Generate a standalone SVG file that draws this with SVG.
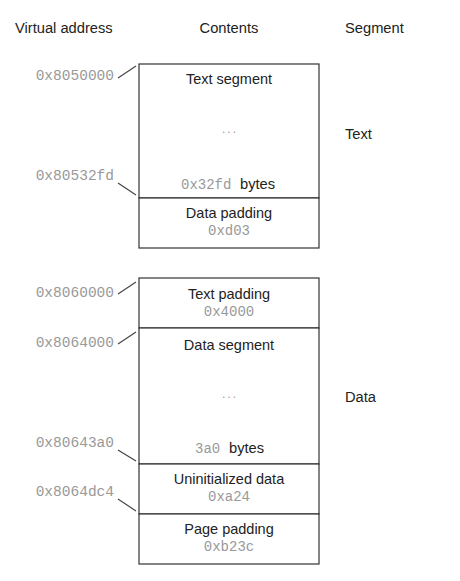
<svg xmlns="http://www.w3.org/2000/svg" width="460" height="581" viewBox="0 0 460 581">
<style>
.h{font-family:"Liberation Sans",Arial,sans-serif;font-size:14.7px;fill:#222}
.l{font-family:"Liberation Sans",Arial,sans-serif;font-size:14.5px;fill:#222;text-anchor:middle}
.m{font-family:"Liberation Mono","Courier New",monospace;font-size:14px;fill:#999}
.mc{font-family:"Liberation Mono","Courier New",monospace;font-size:14px;fill:#999;text-anchor:middle}
.a{font-family:"Liberation Mono","Courier New",monospace;font-size:14.5px;fill:#999;text-anchor:end}
.b{fill:#fff;stroke:#333;stroke-width:1.2}
.ln{stroke:#444;stroke-width:1.2;fill:none}
.d{font-family:"Liberation Sans",Arial,sans-serif;font-size:12px;fill:#999;text-anchor:middle;letter-spacing:2px}
</style>
<rect width="460" height="581" fill="#fff"/>
<g id="headers">
<text class="h" x="15" y="33">Virtual address</text>
<text class="l" x="229" y="33" style="font-size:14.7px">Contents</text>
<text class="h" x="345" y="33">Segment</text>
</g>
<g id="text-segment">
<rect class="b" x="139" y="64" width="180" height="134"/>
<text class="l" x="229" y="84">Text segment</text>
<text class="d" x="230" y="133">...</text>
<text class="m" x="181" y="189">0x32fd</text>
<text class="h" x="240" y="189">bytes</text>
</g>
<g id="data-padding">
<rect class="b" x="139" y="198" width="180" height="50"/>
<text class="l" x="229" y="218">Data padding</text>
<text class="mc" x="229" y="235">0xd03</text>
</g>
<g id="text-padding">
<rect class="b" x="139" y="278" width="180" height="50"/>
<text class="l" x="229" y="299">Text padding</text>
<text class="mc" x="229" y="316">0x4000</text>
</g>
<g id="data-segment">
<rect class="b" x="139" y="328" width="180" height="136"/>
<text class="l" x="229" y="350">Data segment</text>
<text class="d" x="230" y="398">...</text>
<text class="m" x="195" y="453">3a0</text>
<text class="h" x="229" y="453">bytes</text>
</g>
<g id="uninitialized-data">
<rect class="b" x="139" y="464" width="180" height="50"/>
<text class="l" x="229" y="484">Uninitialized data</text>
<text class="mc" x="229" y="501">0xa24</text>
</g>
<g id="page-padding">
<rect class="b" x="139" y="514" width="180" height="50"/>
<text class="l" x="229" y="534">Page padding</text>
<text class="mc" x="229" y="551">0xb23c</text>
</g>
<g id="segment-labels">
<text class="h" x="345" y="139">Text</text>
<text class="h" x="345" y="402">Data</text>
</g>
<g id="addresses">
<text class="a" x="114" y="80">0x8050000</text>
<text class="a" x="114" y="180">0x80532fd</text>
<text class="a" x="114" y="297">0x8060000</text>
<text class="a" x="114" y="347">0x8064000</text>
<text class="a" x="114" y="447">0x80643a0</text>
<text class="a" x="114" y="496">0x8064dc4</text>
</g>
<g id="connectors">
<line class="ln" x1="118" y1="78" x2="136" y2="66"/>
<line class="ln" x1="118" y1="183" x2="136" y2="195"/>
<line class="ln" x1="118" y1="294" x2="136" y2="282"/>
<line class="ln" x1="118" y1="344" x2="136" y2="332"/>
<line class="ln" x1="118" y1="450" x2="136" y2="461"/>
<line class="ln" x1="118" y1="499" x2="136" y2="511"/>
</g>
</svg>
